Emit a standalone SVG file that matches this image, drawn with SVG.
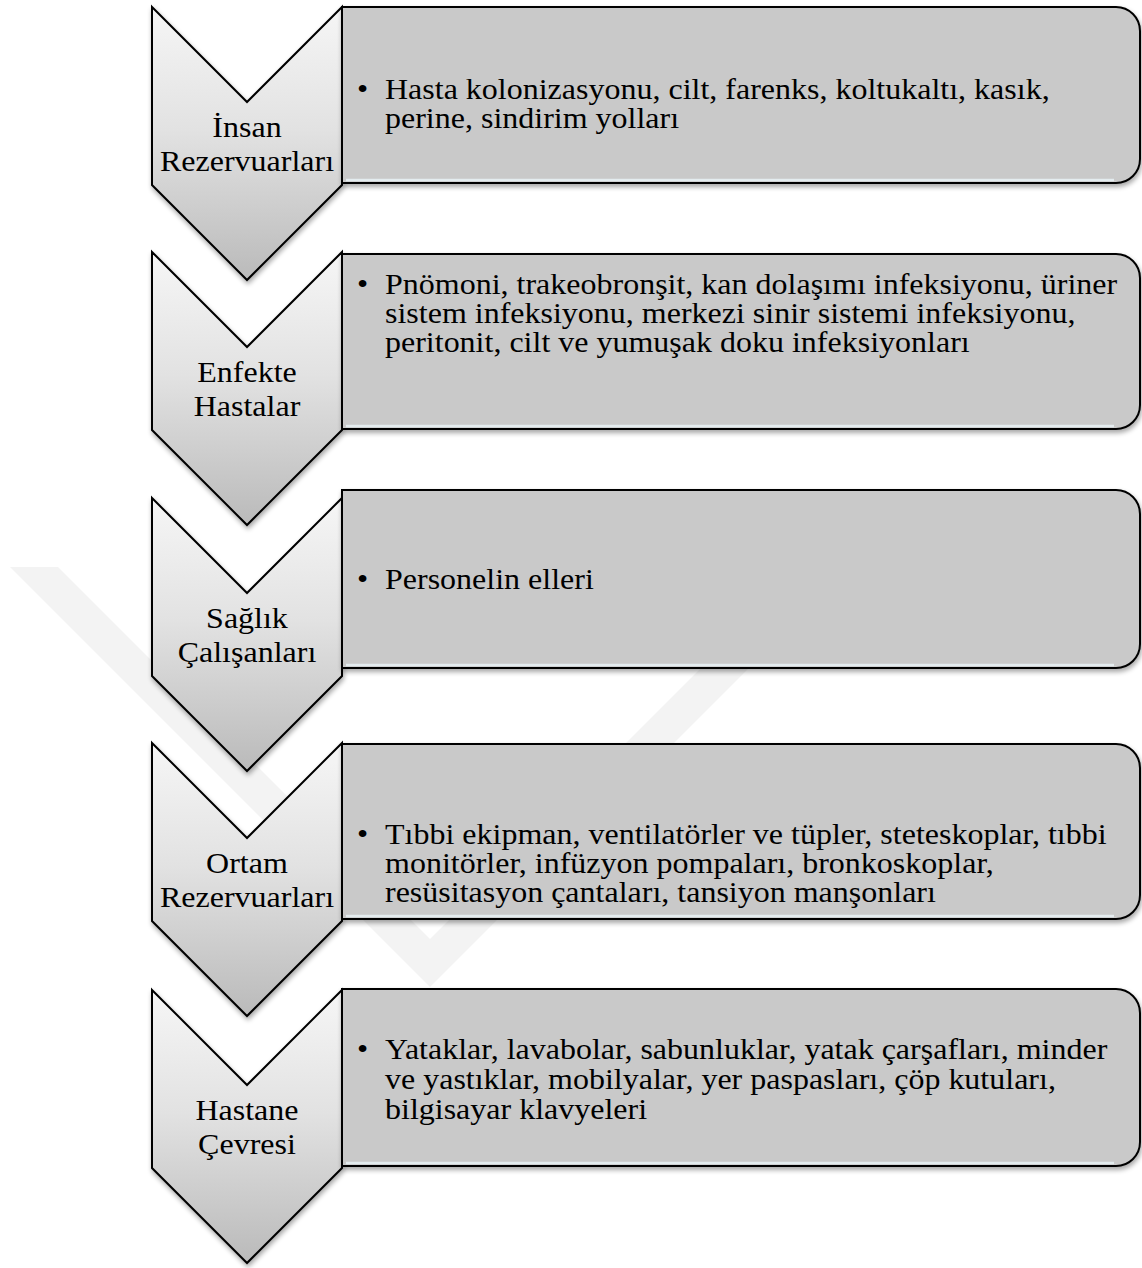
<svg xmlns="http://www.w3.org/2000/svg" width="1142" height="1268" viewBox="0 0 1142 1268">
<defs>
<style>
.lbl{font-family:"Liberation Serif","Times New Roman",serif;font-size:32px;fill:#000;text-anchor:middle}
.txt{font-family:"Liberation Serif","Times New Roman",serif;font-size:32px;fill:#000}
.chev{fill:url(#cg);stroke:#000;stroke-width:2;stroke-linejoin:miter;filter:url(#sh)}
.box{fill:#c9c9c9;stroke:#000;stroke-width:2;filter:url(#sh)}
.hl{fill:none;stroke:#e4ecef;stroke-width:2.5}
.wm{fill:#f3f3f3}
</style>
<linearGradient id="cg" x1="0" y1="0" x2="0" y2="1">
<stop offset="0" stop-color="#f6f6f6"/>
<stop offset="0.45" stop-color="#e2e2e2"/>
<stop offset="1" stop-color="#bababa"/>
</linearGradient>
<filter id="sh" x="-5%" y="-5%" width="112%" height="120%">
<feGaussianBlur in="SourceAlpha" stdDeviation="2.5"/>
<feOffset dx="1" dy="3" result="o"/>
<feComponentTransfer><feFuncA type="linear" slope="0.35"/></feComponentTransfer>
<feMerge><feMergeNode/><feMergeNode in="SourceGraphic"/></feMerge>
</filter>
</defs>
<rect width="1142" height="1268" fill="#fff"/>
<g id="watermark">
<polygon class="wm" points="10,567 58,567 430,939 802,567 850,567 430,987"/>
</g>
<g id="connectors"></g>
<g id="node1">
<polygon class="chev" points="152,7 247,102 342,7 342,185 247,280 152,185"/>
<path class="box" d="M342,7 H1116 A24,24 0 0 1 1140,31 V159 A24,24 0 0 1 1116,183 H342 Z"/>
<path class="hl" d="M346,180 H1114"/>
<text class="lbl" x="247" y="137" transform="matrix(1 0 0 0.9 0 13.7)">İnsan<tspan x="247" dy="37.8">Rezervuarları</tspan></text>
<text class="txt" y="99" transform="matrix(1 0 0 0.9 0 9.9)"><tspan x="357">•</tspan><tspan x="385">Hasta kolonizasyonu, cilt, farenks, koltukaltı, kasık,</tspan><tspan x="385" dy="32.2">perine, sindirim yolları</tspan></text>
</g>
<g id="node2">
<polygon class="chev" points="152,252 247,347 342,252 342,430 247,525 152,430"/>
<path class="box" d="M342,254 H1116 A24,24 0 0 1 1140,278 V405 A24,24 0 0 1 1116,429 H342 Z"/>
<path class="hl" d="M346,426 H1114"/>
<text class="lbl" x="247" y="382" transform="matrix(1 0 0 0.9 0 38.2)">Enfekte<tspan x="247" dy="37.8">Hastalar</tspan></text>
<text class="txt" y="294" transform="matrix(1 0 0 0.9 0 29.4)"><tspan x="357">•</tspan><tspan x="385">Pnömoni, trakeobronşit, kan dolaşımı infeksiyonu, üriner</tspan><tspan x="385" dy="32.2">sistem infeksiyonu, merkezi sinir sistemi infeksiyonu,</tspan><tspan x="385" dy="32.2">peritonit, cilt ve yumuşak doku infeksiyonları</tspan></text>
</g>
<g id="node3">
<polygon class="chev" points="152,498 247,593 342,498 342,676 247,771 152,676"/>
<path class="box" d="M342,490 H1116 A24,24 0 0 1 1140,514 V644 A24,24 0 0 1 1116,668 H342 Z"/>
<path class="hl" d="M346,665 H1114"/>
<text class="lbl" x="247" y="628" transform="matrix(1 0 0 0.9 0 62.8)">Sağlık<tspan x="247" dy="37.8">Çalışanları</tspan></text>
<text class="txt" y="589" transform="matrix(1 0 0 0.9 0 58.9)"><tspan x="357">•</tspan><tspan x="385">Personelin elleri</tspan></text>
</g>
<g id="node4">
<polygon class="chev" points="152,743 247,838 342,743 342,921 247,1016 152,921"/>
<path class="box" d="M342,744 H1116 A24,24 0 0 1 1140,768 V895 A24,24 0 0 1 1116,919 H342 Z"/>
<path class="hl" d="M346,916 H1114"/>
<text class="lbl" x="247" y="873" transform="matrix(1 0 0 0.9 0 87.3)">Ortam<tspan x="247" dy="37.8">Rezervuarları</tspan></text>
<text class="txt" y="844" transform="matrix(1 0 0 0.9 0 84.4)"><tspan x="357">•</tspan><tspan x="385">Tıbbi ekipman, ventilatörler ve tüpler, steteskoplar, tıbbi</tspan><tspan x="385" dy="32.2">monitörler, infüzyon pompaları, bronkoskoplar,</tspan><tspan x="385" dy="32.2">resüsitasyon çantaları, tansiyon manşonları</tspan></text>
</g>
<g id="node5">
<polygon class="chev" points="152,990 247,1085 342,990 342,1168 247,1263 152,1168"/>
<path class="box" d="M342,989 H1116 A24,24 0 0 1 1140,1013 V1142 A24,24 0 0 1 1116,1166 H342 Z"/>
<path class="hl" d="M346,1163 H1114"/>
<text class="lbl" x="247" y="1120" transform="matrix(1 0 0 0.9 0 112)">Hastane<tspan x="247" dy="37.8">Çevresi</tspan></text>
<text class="txt" y="1059" transform="matrix(1 0 0 0.9 0 105.9)"><tspan x="357">•</tspan><tspan x="385">Yataklar, lavabolar, sabunluklar, yatak çarşafları, minder</tspan><tspan x="385" dy="33.3">ve yastıklar, mobilyalar, yer paspasları, çöp kutuları,</tspan><tspan x="385" dy="33.3">bilgisayar klavyeleri</tspan></text>
</g>
</svg>
